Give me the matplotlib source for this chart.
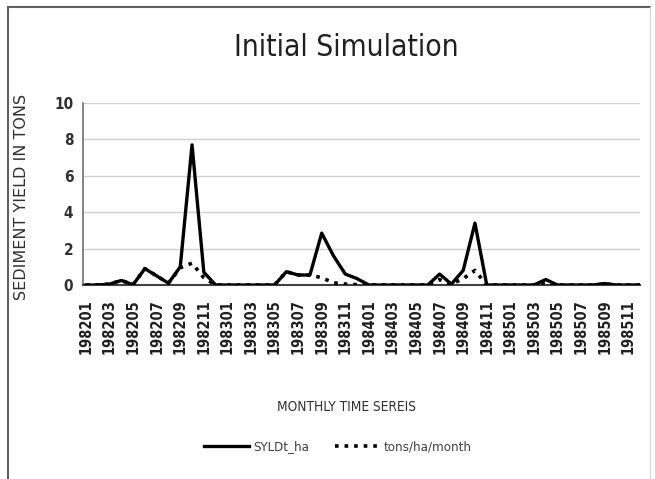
import numpy as np
import matplotlib
matplotlib.use('Agg')
import matplotlib.pyplot as plt
from matplotlib.lines import Line2D

# monthly categories 198201 .. 198512
months = ['%d%02d' % (y, m) for y in range(1982, 1986) for m in range(1, 13)]

# SYLDt_ha (solid)
syld = [0, 0, 0.05, 0.25, 0.02, 0.9, 0.5, 0.1, 1.0, 7.7, 0.7, 0,
        0, 0, 0, 0, 0, 0.73, 0.55, 0.55, 2.85, 1.6, 0.6, 0.35,
        0, 0, 0, 0, 0, 0, 0.6, 0.05, 0.8, 3.4, 0, 0,
        0, 0, 0, 0.3, 0, 0, 0, 0, 0.08, 0, 0, 0]

# tons/ha/month (dotted)
tons = [0, 0, 0.05, 0.25, 0.02, 0.9, 0.5, 0.1, 0.95, 1.2, 0.4, 0,
        0, 0, 0, 0, 0, 0.73, 0.55, 0.55, 0.4, 0.12, 0.05, 0.02,
        0, 0, 0, 0, 0, 0, 0.3, 0.05, 0.35, 0.8, 0, 0,
        0, 0, 0, 0.15, 0, 0, 0, 0, 0.05, 0, 0, 0]

cond = dict(family='DejaVu Sans', stretch='condensed')

fig = plt.figure(figsize=(6.55, 4.79), dpi=100)
ax = fig.add_axes([83/655, 1 - 285/479, 557/655, 182/479])

x = np.arange(len(months))
ax.plot(x, syld, '-', color='black', lw=2.4, label='SYLDt_ha', zorder=3)
ax.plot(x, tons, ':', color='black', lw=2.6, label='tons/ha/month', zorder=4)

ax.set_xlim(-0.25, len(months) - 1)
ax.set_ylim(0, 10)
ax.set_yticks([0, 2, 4, 6, 8, 10])
ax.yaxis.grid(True, color='#d0d0d0', lw=1)
ax.set_axisbelow(True)
ax.set_xticks(x[::2])
ax.set_xticklabels(months[::2], rotation=90, fontsize=10.5, fontweight='bold',
                   color='#202020', **cond)
for lab in ax.get_yticklabels():
    lab.set_family('DejaVu Sans')
    lab.set_stretch('condensed')
    lab.set_fontsize(11)
    lab.set_fontweight('bold')
    lab.set_color('#303030')
ax.tick_params(axis='y', length=0, pad=7)
ax.tick_params(axis='x', length=0, pad=10)
for s in ['top', 'right']:
    ax.spines[s].set_visible(False)
ax.spines['left'].set_color('#707070')
ax.spines['left'].set_linewidth(1.2)
ax.spines['bottom'].set_color('#404040')
ax.spines['bottom'].set_linewidth(1.5)

fig.text(346/655, 1 - 48/479, 'Initial Simulation', ha='center', va='center',
         fontsize=21.5, color='#202020', **cond)
fig.text(22/655, 1 - 197/479, 'SEDIMENT YIELD IN TONS', rotation=90,
         ha='center', va='center', fontsize=11.5, color='#303030')
fig.text(346/655, 1 - 407/479, 'MONTHLY TIME SEREIS', ha='center', va='center',
         fontsize=9.8, color='#303030', **cond)

leg = fig.legend(loc='center', bbox_to_anchor=(338/655, 1 - 447/479), ncol=2,
                 frameon=False, prop={'family': 'DejaVu Sans', 'stretch': 'condensed', 'size': 9.5},
                 handlelength=3.4, columnspacing=2.0, handletextpad=0.3)
for t in leg.get_texts():
    t.set_color('#404040')

# screenshot frame
fig.add_artist(Line2D([8/655, 8/655], [0, 1 - 7/479], color='#606060', lw=1.5))
fig.add_artist(Line2D([8/655, 650/655], [1 - 7/479, 1 - 7/479], color='#606060', lw=1.5))
fig.add_artist(Line2D([650/655, 650/655], [0, 1 - 7/479], color='#d8d8d8', lw=1))

fig.savefig('out.png', dpi=100)
